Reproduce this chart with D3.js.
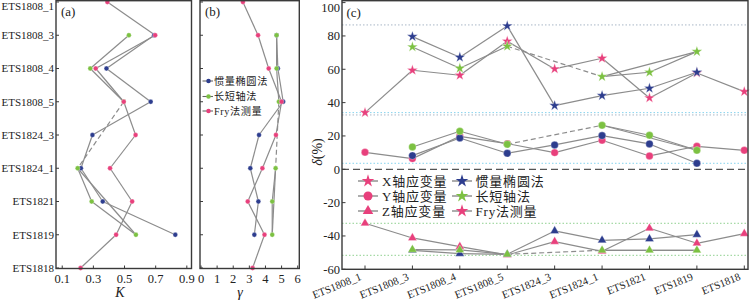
<!DOCTYPE html>
<html><head><meta charset="utf-8">
<script src="https://cdn.jsdelivr.net/npm/d3@7"></script>
<style>
body{margin:0;background:#fff}
svg{display:block}
text{font-family:"Liberation Serif","Noto Sans CJK SC",serif;fill:#222}
</style>
</head><body>
<svg id="chart" width="750" height="301"></svg>
<script>
// ---------------- data ----------------
const categories = ["ETS1808_1","ETS1808_3","ETS1808_4","ETS1808_5","ETS1824_3","ETS1824_1","ETS1821","ETS1819","ETS1818"];

// panel (a): K
const kInertia   = [null, 0.69, 0.384, 0.668, 0.294, 0.22, 0.36, 0.826, null];
const kLongShort = [null, 0.528, 0.28, 0.495, null, 0.199, 0.289, 0.573, null];
const kFry       = [0.39, 0.697, 0.315, 0.495, 0.571, 0.407, 0.549, 0.446, 0.218];

// panel (b): gamma
const gInertia   = [null, 4.69, 4.77, 5.1, 3.6, 3.06, 3.56, 3.31, null];
const gLongShort = [null, 4.69, 4.69, 4.83, null, 4.63, 4.42, 4.42, null];
const gFry       = [2.6, 3.54, 4.2, 5.0, 4.65, 3.81, 2.9, 3.94, 3.2];

// panel (c): delta (%)
const xInertia   = [null, 79.6, 67.2, 86.0, 38.2, 44.2, 48.6, 58.2, null];
const xLongShort = [null, 73.4, 60.6, 73.8, null, 55.6, 58.2, 70.6, null];
const xFry       = [34.0, 59.4, 56.4, 76.8, 60.2, 66.6, 42.8, 57.8, 46.6];
const yInertia   = [null, 8.2, 18.8, 9.6, 14.6, 20.2, 15.2, 3.6, null];
const yLongShort = [null, 13.4, 22.8, 15.0, null, 26.4, 20.4, 11.4, null];
const yFry       = [10.2, 6.4, 19.8, 15.4, 10.0, 17.4, 8.0, 13.8, 11.4];
const zInertia   = [null, -48.6, -50.6, -51.0, -37.0, -42.6, -41.8, -39.2, null];
const zLongShort = [null, -48.2, -48.4, -51.0, null, -48.6, -48.6, -48.6, null];
const zFry       = [-32.4, -41.2, -46.4, -51.4, -43.4, -49.2, -35.4, -44.4, -38.6];

// extra direct link drawn for the 长短轴法 series
const longShortExtraLinks = [["ETS1824_1","ETS1819"]];

const refValues = [86.6, 34.0, 32.6, 3.6, -32.4, -51.6];
const kTicks = [0.1, 0.3, 0.5, 0.7, 0.9];
const gTicks = [0, 1, 2, 3, 4, 5, 6];
const dTicks = [100, 80, 60, 40, 20, 0, -20, -40, -60];
const methodNames = ["惯量椭圆法", "长短轴法", "Fry法测量"];
const axisNames = ["X轴应变量", "Y轴应变量", "Z轴应变量"];

// ---------------- styles ----------------
const C = {blue:"#2d3d8e", green:"#7cc142", pink:"#e8407c", line:"#8c8c8c", frame:"#3a3a3a"};
const refColors = ["#a9b6c6","#86d3ee","#a9b6c6","#86d3ee","#8fd08f","#8fd08f"];

const svg = d3.select("#chart");

// ---------------- helpers ----------------
function drawLines(g, values, pos, extra) {
  let prevI = -1;
  values.forEach((v, i) => {
    if (v == null) return;
    if (prevI >= 0) {
      const a = pos(prevI, values[prevI]), b = pos(i, v);
      g.append("line").attr("x1", a[0]).attr("y1", a[1]).attr("x2", b[0]).attr("y2", b[1])
        .attr("stroke", C.line).attr("stroke-width", 1.2)
        .attr("stroke-dasharray", (i - prevI > 1) ? "5,3" : null);
    }
    prevI = i;
  });
  (extra || []).forEach(([c1, c2]) => {
    const i1 = categories.indexOf(c1), i2 = categories.indexOf(c2);
    const a = pos(i1, values[i1]), b = pos(i2, values[i2]);
    g.append("line").attr("x1", a[0]).attr("y1", a[1]).attr("x2", b[0]).attr("y2", b[1])
      .attr("stroke", C.line).attr("stroke-width", 1.2);
  });
}
function drawMarkers(g, values, pos, color, type, size) {
  const sym = d3.symbol().type(type).size(size);
  values.forEach((v, i) => {
    if (v == null) return;
    const p = pos(i, v);
    g.append("path").attr("d", sym()).attr("transform", `translate(${p[0]},${p[1]})`)
      .attr("fill", color).attr("stroke", "rgba(255,255,255,0.6)").attr("stroke-width", 0.5);
  });
}

// ---------------- panel (a) ----------------
const yCat = d3.scalePoint().domain(categories).range([2, 268]);
const xA = d3.scaleLinear().domain([0.06, 0.93]).range([56, 191.5]);
const gA = svg.append("g");
gA.selectAll("text.cat").data(categories).join("text")
  .attr("x", 54).attr("y", d => Math.max(yCat(d), 6)).attr("dy", "0.35em").attr("text-anchor", "end")
  .attr("font-size", 11).text(d => d);
categories.forEach(c => gA.append("line").attr("x1", 56).attr("x2", 59).attr("y1", yCat(c)).attr("y2", yCat(c)).attr("stroke", C.frame));
kTicks.forEach(t => {
  gA.append("line").attr("x1", xA(t)).attr("x2", xA(t)).attr("y1", 268.5).attr("y2", 265.5).attr("stroke", C.frame);
  gA.append("text").attr("x", xA(t)).attr("y", 283).attr("text-anchor", "middle").attr("font-size", 12.5).text(d3.format(".1f")(t));
});
gA.append("text").attr("x", 120).attr("y", 297).attr("text-anchor", "middle").attr("font-size", 14).attr("font-style", "italic").text("K");
const posA = (i, v) => [xA(v), yCat(categories[i])];
[kInertia, kLongShort, kFry].forEach((arr, k) => drawLines(gA, arr, posA, k === 1 ? longShortExtraLinks : null));
drawMarkers(gA, kInertia, posA, C.blue, d3.symbolCircle, 18);
drawMarkers(gA, kLongShort, posA, C.green, d3.symbolCircle, 18);
drawMarkers(gA, kFry, posA, C.pink, d3.symbolCircle, 18);
gA.append("rect").attr("x", 56).attr("y", 0.7).attr("width", 135.5).attr("height", 267.8)
  .attr("fill", "none").attr("stroke", C.frame).attr("stroke-width", 1.4);
gA.append("text").attr("x", 61).attr("y", 16).attr("font-size", 13).text("(a)");

// ---------------- panel (b) ----------------
const xB = d3.scaleLinear().domain([0, 6]).range([201, 297.7]);
const gB = svg.append("g");
categories.forEach(c => gB.append("line").attr("x1", 200).attr("x2", 203).attr("y1", yCat(c)).attr("y2", yCat(c)).attr("stroke", C.frame));
gTicks.forEach(t => {
  gB.append("line").attr("x1", xB(t)).attr("x2", xB(t)).attr("y1", 268.5).attr("y2", 265.5).attr("stroke", C.frame);
  gB.append("text").attr("x", xB(t)).attr("y", 283).attr("text-anchor", "middle").attr("font-size", 12.5).text(t);
});
gB.append("text").attr("x", 240).attr("y", 297).attr("text-anchor", "middle").attr("font-size", 14).attr("font-style", "italic").text("γ");
const posB = (i, v) => [xB(v), yCat(categories[i])];
[gInertia, gLongShort, gFry].forEach((arr, k) => drawLines(gB, arr, posB, k === 1 ? longShortExtraLinks : null));
drawMarkers(gB, gInertia, posB, C.blue, d3.symbolCircle, 18);
drawMarkers(gB, gLongShort, posB, C.green, d3.symbolCircle, 18);
drawMarkers(gB, gFry, posB, C.pink, d3.symbolCircle, 18);
gB.append("rect").attr("x", 200).attr("y", 0.7).attr("width", 99.3).attr("height", 267.8)
  .attr("fill", "none").attr("stroke", C.frame).attr("stroke-width", 1.4);
gB.append("text").attr("x", 205).attr("y", 16).attr("font-size", 13).text("(b)");
// legend (b)
const legB = [C.blue, C.green, C.pink];
const legBy = [81, 96.5, 111];
methodNames.forEach((n, i) => {
  gB.append("line").attr("x1", 202.5).attr("x2", 213).attr("y1", legBy[i]).attr("y2", legBy[i]).attr("stroke", "#666").attr("stroke-width", 1.1);
  gB.append("path").attr("d", d3.symbol().type(d3.symbolCircle).size(16)()).attr("transform", `translate(208.5,${legBy[i]})`).attr("fill", legB[i]);
  gB.append("text").attr("x", 214).attr("y", legBy[i]).attr("dy", "0.36em").attr("font-size", 10.2)
    .attr("letter-spacing", 0.6).attr("font-family", "Noto Sans CJK SC").attr("fill", "#333").text(n);
});

// ---------------- panel (c) ----------------
const xC = d3.scalePoint().domain(categories).range([365, 744.3]);
const yC = d3.scaleLinear().domain([-60, 100]).range([269.3, 2.6]);
const gC = svg.append("g");
refValues.forEach((v, i) => {
  gC.append("line").attr("x1", 342).attr("x2", 748).attr("y1", yC(v)).attr("y2", yC(v))
    .attr("stroke", refColors[i]).attr("stroke-width", 1).attr("stroke-dasharray", "1.5,2");
});
gC.append("line").attr("x1", 342).attr("x2", 748).attr("y1", yC(0)).attr("y2", yC(0))
  .attr("stroke", "#555").attr("stroke-width", 1.3).attr("stroke-dasharray", "7,4");
dTicks.forEach(t => {
  gC.append("line").attr("x1", 342).attr("x2", 345.5).attr("y1", yC(t)).attr("y2", yC(t)).attr("stroke", C.frame);
  gC.append("text").attr("x", 340).attr("y", Math.max(yC(t), 7)).attr("dy", "0.36em").attr("text-anchor", "end").attr("font-size", 12.5).text(t);
});
categories.forEach(c => {
  gC.append("line").attr("x1", xC(c)).attr("x2", xC(c)).attr("y1", 269.3).attr("y2", 265.5).attr("stroke", C.frame);
  gC.append("text").attr("transform", `translate(${xC(c) - 3},${279.5}) rotate(-22)`)
    .attr("text-anchor", "end").attr("font-size", 10.8).text(c);
});
gC.append("text").attr("transform", "translate(322,152) rotate(-90)").attr("text-anchor", "middle")
  .attr("font-size", 14).html('<tspan font-style="italic">δ</tspan>(%)');
const posC = (i, v) => [xC(categories[i]), yC(v)];
const cSeries = [
  [xFry, C.pink, d3.symbolStar, 0], [xInertia, C.blue, d3.symbolStar, 0], [xLongShort, C.green, d3.symbolStar, 1],
  [yFry, C.pink, d3.symbolCircle, 0], [yInertia, C.blue, d3.symbolCircle, 0], [yLongShort, C.green, d3.symbolCircle, 1],
  [zFry, C.pink, d3.symbolTriangle, 0], [zInertia, C.blue, d3.symbolTriangle, 0], [zLongShort, C.green, d3.symbolTriangle, 1]
];
cSeries.forEach(([arr, col, t, ls]) => drawLines(gC, arr, posC, ls ? longShortExtraLinks : null));
cSeries.forEach(([arr, col, t]) => drawMarkers(gC, arr, posC, col, t, t === d3.symbolStar ? 36 : (t === d3.symbolCircle ? 44 : 34)));
gC.append("rect").attr("x", 342).attr("y", 0.7).attr("width", 406).attr("height", 268.6)
  .attr("fill", "none").attr("stroke", C.frame).attr("stroke-width", 1.4);
gC.append("text").attr("x", 346.5).attr("y", 17).attr("font-size", 13).text("(c)");

// legend (c)
const legCy = [181, 196, 211];
const leftSyms = [d3.symbolStar, d3.symbolCircle, d3.symbolTriangle];
const leftSizes = [50, 64, 48];
axisNames.forEach((n, i) => {
  gC.append("line").attr("x1", 358).attr("x2", 378).attr("y1", legCy[i]).attr("y2", legCy[i]).attr("stroke", "#777").attr("stroke-width", 1.2);
  gC.append("path").attr("d", d3.symbol().type(leftSyms[i]).size(leftSizes[i])()).attr("transform", `translate(368,${legCy[i]})`).attr("fill", C.pink);
  gC.append("text").attr("x", 382).attr("y", legCy[i]).attr("dy", "0.36em").attr("font-size", 13)
    .attr("letter-spacing", 0.8).attr("fill", "#333").text(n);
});
const rightCols = [C.blue, C.green, C.pink];
methodNames.forEach((n, i) => {
  gC.append("line").attr("x1", 452).attr("x2", 472).attr("y1", legCy[i]).attr("y2", legCy[i]).attr("stroke", "#777").attr("stroke-width", 1.2);
  gC.append("path").attr("d", d3.symbol().type(d3.symbolStar).size(50)()).attr("transform", `translate(462,${legCy[i]})`).attr("fill", rightCols[i]);
  gC.append("text").attr("x", 475.5).attr("y", legCy[i]).attr("dy", "0.36em").attr("font-size", 13)
    .attr("letter-spacing", 0.8).attr("fill", "#333").text(n);
});
</script>
</body></html>
